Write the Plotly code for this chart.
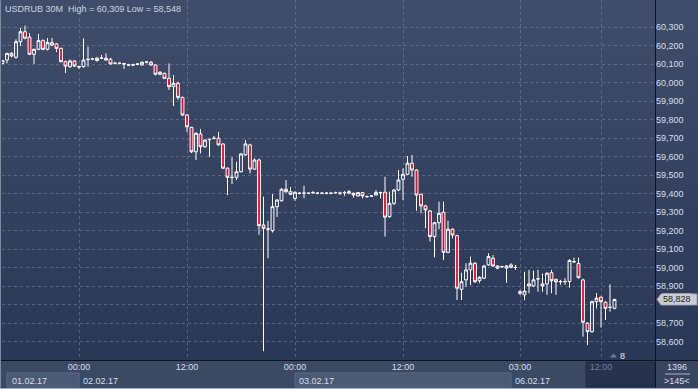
import plotly.graph_objects as go

# ---------------- data ----------------
open_ = [60.105, 60.123, 60.159, 60.138, 60.222, 60.276, 60.246, 60.154, 60.181, 60.228,
         60.181, 60.217, 60.210, 60.186, 60.114, 60.087, 60.118, 60.088, 60.087, 60.125,
         60.128, 60.133, 60.132, 60.123, 60.127, 60.105, 60.106, 60.103, 60.097, 60.096,
         60.100, 60.096, 60.111, 60.111, 60.096, 60.046, 60.051, 60.024, 59.979, 59.997,
         59.921, 59.826, 59.759, 59.627, 59.723, 59.654, 59.692, 59.699, 59.700, 59.669,
         59.538, 59.489, 59.489, 59.519, 59.610, 59.664, 59.533, 59.582, 59.231, 59.210,
         59.200, 59.330, 59.362, 59.424, 59.411, 59.375, 59.403, 59.402, 59.403, 59.405,
         59.402, 59.403, 59.402, 59.403, 59.405, 59.402, 59.405, 59.403, 59.402, 59.388,
         59.406, 59.385, 59.387, 59.393, 59.406, 59.408, 59.276, 59.348, 59.420, 59.478,
         59.505, 59.565, 59.528, 59.397, 59.334, 59.307, 59.168, 59.243, 59.300, 59.083,
         59.208, 59.173, 58.883, 58.934, 58.988, 59.024, 58.930, 58.943, 59.015, 59.051,
         59.009, 59.005, 58.997, 59.015, 59.002, 58.870, 58.853, 58.912, 58.901, 58.939,
         58.912, 58.912, 58.973, 58.937, 58.925, 58.924, 58.925, 59.033, 59.022, 58.934,
         58.700, 58.654, 58.816, 58.840, 58.813, 58.785, 58.780]
high = [60.122, 60.162, 60.165, 60.235, 60.296, 60.309, 60.268, 60.185, 60.264, 60.235,
        60.242, 60.242, 60.215, 60.190, 60.120, 60.125, 60.122, 60.092, 60.240, 60.195,
        60.135, 60.140, 60.150, 60.159, 60.135, 60.110, 60.110, 60.108, 60.102, 60.103,
        60.106, 60.115, 60.118, 60.118, 60.100, 60.062, 60.055, 60.105, 60.042, 60.006,
        59.925, 59.830, 59.762, 59.732, 59.750, 59.695, 59.698, 59.712, 59.735, 59.672,
        59.542, 59.597, 59.573, 59.620, 59.691, 59.670, 59.591, 59.590, 59.384, 59.253,
        59.398, 59.370, 59.430, 59.474, 59.436, 59.412, 59.408, 59.443, 59.408, 59.415,
        59.407, 59.408, 59.407, 59.408, 59.411, 59.411, 59.415, 59.420, 59.407, 59.410,
        59.410, 59.390, 59.393, 59.420, 59.411, 59.492, 59.411, 59.425, 59.528, 59.537,
        59.604, 59.609, 59.532, 59.400, 59.338, 59.312, 59.248, 59.357, 59.357, 59.254,
        59.213, 59.178, 58.973, 59.024, 59.060, 59.030, 58.953, 59.015, 59.078, 59.069,
        59.013, 59.010, 59.013, 59.024, 59.015, 58.880, 58.978, 58.988, 58.984, 58.988,
        58.969, 58.975, 58.988, 58.940, 58.934, 58.943, 59.045, 59.054, 59.054, 58.940,
        58.705, 58.822, 58.862, 58.845, 58.818, 58.910, 58.832]
low = [60.100, 60.105, 60.138, 60.130, 60.199, 60.235, 60.150, 60.102, 60.176, 60.176,
       60.175, 60.198, 60.166, 60.110, 60.053, 60.080, 60.085, 60.075, 60.082, 60.087,
       60.122, 60.115, 60.128, 60.118, 60.098, 60.100, 60.100, 60.075, 60.090, 60.090,
       60.095, 60.092, 60.105, 60.092, 60.040, 60.041, 60.020, 59.961, 59.874, 59.907,
       59.820, 59.735, 59.620, 59.582, 59.618, 59.648, 59.600, 59.694, 59.660, 59.533,
       59.393, 59.452, 59.474, 59.515, 59.605, 59.510, 59.530, 59.177, 58.548, 59.051,
       59.190, 59.274, 59.358, 59.405, 59.392, 59.362, 59.397, 59.375, 59.398, 59.400,
       59.397, 59.398, 59.397, 59.398, 59.400, 59.393, 59.389, 59.397, 59.379, 59.383,
       59.375, 59.378, 59.382, 59.390, 59.375, 59.168, 59.270, 59.339, 59.415, 59.366,
       59.500, 59.492, 59.308, 59.294, 59.213, 59.141, 59.056, 59.208, 59.042, 59.078,
       59.159, 58.825, 58.825, 58.897, 58.906, 58.918, 58.916, 58.938, 59.010, 59.004,
       58.992, 59.000, 58.919, 58.997, 58.988, 58.852, 58.825, 58.862, 58.895, 58.870,
       58.870, 58.853, 58.862, 58.853, 58.907, 58.907, 58.892, 59.026, 58.940, 58.627,
       58.582, 58.648, 58.780, 58.676, 58.717, 58.762, 58.775]
close = [60.120, 60.159, 60.145, 60.222, 60.276, 60.241, 60.154, 60.181, 60.228, 60.181,
         60.217, 60.204, 60.186, 60.114, 60.090, 60.118, 60.091, 60.086, 60.123, 60.127,
         60.130, 60.120, 60.134, 60.133, 60.102, 60.106, 60.105, 60.102, 60.096, 60.097,
         60.101, 60.111, 60.112, 60.096, 60.046, 60.057, 60.024, 59.979, 59.997, 59.921,
         59.826, 59.762, 59.627, 59.727, 59.654, 59.690, 59.694, 59.700, 59.664, 59.538,
         59.489, 59.488, 59.519, 59.615, 59.669, 59.533, 59.582, 59.227, 59.213, 59.209,
         59.330, 59.366, 59.424, 59.411, 59.397, 59.408, 59.402, 59.403, 59.402, 59.406,
         59.403, 59.402, 59.403, 59.402, 59.406, 59.403, 59.406, 59.411, 59.393, 59.406,
         59.388, 59.384, 59.388, 59.406, 59.405, 59.273, 59.348, 59.420, 59.474, 59.505,
         59.565, 59.528, 59.393, 59.334, 59.312, 59.168, 59.243, 59.294, 59.083, 59.208,
         59.177, 58.889, 58.924, 58.988, 59.024, 58.924, 58.948, 59.009, 59.060, 59.009,
         58.997, 59.006, 59.009, 59.002, 59.001, 58.862, 58.874, 58.901, 58.934, 58.940,
         58.901, 58.970, 58.930, 58.923, 58.924, 58.925, 59.039, 59.032, 58.946, 58.705,
         58.654, 58.816, 58.835, 58.816, 58.780, 58.786, 58.828]
bar_index = list(range(len(close)))

time_tick_index = [17, 41, 65, 89, 115, 133]
time_tick_text = ["00:00", "12:00", "00:00", "12:00", "03:00", "12:00"]
date_labels = ["01.02.17", "02.02.17", "03.02.17", "06.02.17"]
date_start_index = [1.1, 17, 65, 113]
price_ticks = [round(58.6 + 0.1 * k, 1) for k in range(18)]
symbol, timeframe = "USDRUB", "30M"
bars_total, bars_visible, shift_bars = 1396, 145, 8

# ---------------- geometry ----------------
W, H = 698, 389
L, R, T, B = 2, 655, 0, 360
X_RANGE = [-0.111, 145.0]
Y_RANGE = [58.5007, 60.4476]
FONT = "Liberation Sans, Arial, sans-serif"


def fx(xp):
    return (xp - L) / (R - L)


def fy(yp):
    return (B - yp) / (B - T)


def xpix(i):
    return L + (i - X_RANGE[0]) / (X_RANGE[1] - X_RANGE[0]) * (R - L)


def ypix(v):
    return T + (Y_RANGE[1] - v) / (Y_RANGE[1] - Y_RANGE[0]) * (B - T)


def fmt(v):
    return f"{v:.3f}".replace(".", ",")


shapes = []
annotations = []


def rect(x0, y0, x1, y1, fill, line=None, lw=0):
    shapes.append(dict(type="rect", xref="paper", yref="paper",
                       x0=fx(x0), x1=fx(x1), y0=fy(y1), y1=fy(y0),
                       fillcolor=fill, line=dict(color=line or fill, width=lw),
                       layer="below"))


def hline(x0, x1, y, color, width=1, layer="above"):
    shapes.append(dict(type="line", xref="paper", yref="paper",
                       x0=fx(x0), x1=fx(x1), y0=fy(y), y1=fy(y),
                       line=dict(color=color, width=width), layer=layer))


def vline(x, y0, y1, color, width=1, layer="above"):
    shapes.append(dict(type="line", xref="paper", yref="paper",
                       x0=fx(x), x1=fx(x), y0=fy(y0), y1=fy(y1),
                       line=dict(color=color, width=width), layer=layer))


def text(x, y, s, color="#d9dfea", size=9, xanchor="left", bg=None):
    annotations.append(dict(xref="paper", yref="paper", x=fx(x), y=fy(y), text=s,
                            showarrow=False, xanchor=xanchor, yanchor="middle",
                            font=dict(family=FONT, size=size, color=color),
                            bgcolor=bg, borderpad=0))


# background gradient (plot + right scale)
top_c, bot_c = (63, 77, 106), (42, 56, 87)
N = 36
for k in range(N):
    t = k / (N - 1)
    c = tuple(int(round(top_c[j] + (bot_c[j] - top_c[j]) * t)) for j in range(3))
    y0 = B * k / N
    y1 = B * (k + 1) / N + 0.6
    rect(0, y0, W, y1, f"rgb{c}")

# bottom time panel
rect(0, B, W, H, "rgb(58,73,100)")
rect(xpix(date_start_index[0]) - 0.5, 373, xpix(date_start_index[1]), 387,
     "rgb(74,89,116)", "rgb(92,107,134)", 1)
rect(xpix(date_start_index[2]), 373, xpix(date_start_index[3]), 387,
     "rgb(74,89,116)", "rgb(92,107,134)", 1)
rect(586, 362, R, 387, "rgb(39,51,77)", "rgb(33,44,68)", 1)
rect(R, B, W, H, "rgb(55,69,96)")

for lab, st in zip(date_labels, date_start_index):
    text(xpix(st) + 3.5, 380.5, lab)

# frame lines
vline(R + 0.5, 0, H, "#0e1320", 1)
hline(0, W, B + 0.5, "#0e1320", 1)
vline(0.5, 0, H, "#7d8aa3", 1)
hline(0, W, H - 0.5, "#a3aec0", 1)

# title
title = f"{symbol} {timeframe}  High = {fmt(max(high))} Low = {fmt(min(low))}"
text(4, 8.5, title, color="#cbd4e3")

# last price marker (covers the scale label beneath it, as in the terminal)
last = close[-1]
yc = ypix(last)
shapes.append(dict(type="path", xref="paper", yref="paper",
                   path=(f"M {fx(657)} {fy(yc)} L {fx(661)} {fy(yc - 5.5)} L {fx(697)} {fy(yc - 5.5)} "
                         f"L {fx(697)} {fy(yc + 5.5)} L {fx(661)} {fy(yc + 5.5)} Z"),
                   fillcolor="#c9ccd3", line=dict(color="#9aa1ae", width=1), layer="above"))
annotations.append(dict(xref="paper", yref="paper", x=fx(662), y=fy(yc), text=fmt(last),
                        showarrow=False, xanchor="left", yanchor="middle",
                        font=dict(family=FONT, size=9, color="#1b2436"),
                        bgcolor="#c9ccd3", borderpad=0))

# chart shift marker
shapes.append(dict(type="path", xref="paper", yref="paper",
                   path=f"M {fx(610)} {fy(357.5)} L {fx(613.5)} {fy(353.5)} L {fx(617)} {fy(357.5)} Z",
                   fillcolor="#6f7c96", line=dict(width=0), layer="above"))
text(619, 355.5, str(shift_bars), color="#e8ecf3")

# bars info
text(677, 367, str(bars_total), xanchor="center")
hline(665, 690, 374, "#aab4c6", 1)
text(677, 380.5, f"&gt;{bars_visible}&lt;", xanchor="center")

fig = go.Figure(go.Candlestick(
    x=bar_index, open=open_, high=high, low=low, close=close,
    increasing=dict(line=dict(color="#ffffff", width=1), fillcolor="rgba(0,0,0,0)"),
    decreasing=dict(line=dict(color="#ffffff", width=1), fillcolor="#ea0a2a"),
    whiskerwidth=0, hoverinfo="skip", showlegend=False,
))

tick_text_html = [t if k < len(time_tick_text) - 1 else f'<span style="color:#6f7d98">{t}</span>'
                  for k, t in enumerate(time_tick_text)]
# hide the scale label that sits under the last-price marker
price_text = ["" if abs(v - last) < 0.04 else fmt(v) for v in price_ticks]

fig.update_layout(
    width=W, height=H, margin=dict(l=L, r=W - R, t=T, b=H - B),
    paper_bgcolor="rgb(55,69,96)", plot_bgcolor="rgb(52,66,96)",
    separators=",.",
    font=dict(family=FONT, size=9, color="#d9dfea"),
    shapes=shapes, annotations=annotations,
    boxgap=0.1,
    xaxis=dict(range=X_RANGE, rangeslider=dict(visible=False), showline=False,
               tickmode="array", tickvals=time_tick_index, ticktext=tick_text_html,
               showgrid=True, gridcolor="rgba(120,136,168,0.55)", griddash="3px,3px", gridwidth=1,
               zeroline=False, ticks="", tickfont=dict(size=9, color="#d9dfea"),
               ticklabelstandoff=0, fixedrange=True),
    yaxis=dict(range=Y_RANGE, side="right", tickmode="array", tickvals=price_ticks,
               ticktext=price_text, showgrid=True, gridcolor="rgba(120,136,168,0.55)",
               griddash="3px,3px", gridwidth=1, zeroline=False, ticks="",
               tickfont=dict(size=9, color="#d9dfea"), showline=False, fixedrange=True),
)

fig.write_html("out.html")
